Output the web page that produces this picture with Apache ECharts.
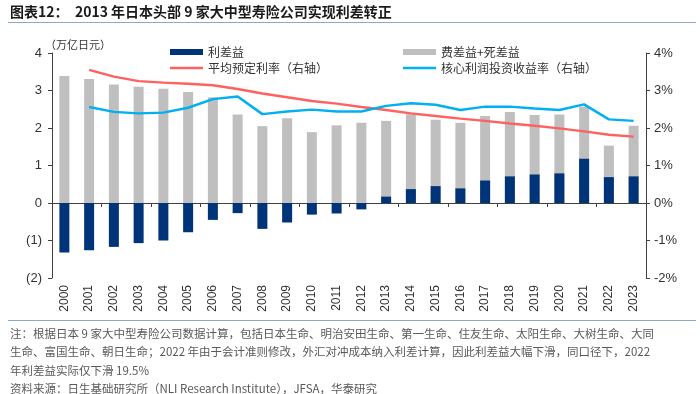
<!DOCTYPE html>
<html><head><meta charset="utf-8">
<script src="https://cdn.jsdelivr.net/npm/echarts@6/dist/echarts.min.js"></script>
<style>html,body{margin:0;padding:0;background:#fff;}#c{width:700px;height:394px;}</style>
</head><body><div id="c"></div>
<script>
var years = ['2000','2001','2002','2003','2004','2005','2006','2007','2008','2009','2010','2011','2012','2013','2014','2015','2016','2017','2018','2019','2020','2021','2022','2023'];
var interestMargin = [-1.32,-1.26,-1.17,-1.07,-1.00,-0.78,-0.45,-0.27,-0.69,-0.52,-0.31,-0.28,-0.17,0.17,0.37,0.45,0.39,0.60,0.71,0.76,0.79,1.18,0.69,0.71];
var expenseMortality = [3.39,3.31,3.16,3.10,3.05,2.96,2.82,2.36,2.05,2.26,1.89,2.07,2.14,2.19,2.37,2.22,2.14,2.32,2.43,2.35,2.36,2.57,1.53,2.06];
var assumedRate = [null,3.55,3.37,3.25,3.21,3.18,3.14,3.04,2.92,2.82,2.72,2.65,2.56,2.48,2.39,2.32,2.25,2.19,2.12,2.06,1.99,1.91,1.82,1.77];
var coreYield = [null,2.56,2.43,2.39,2.41,2.54,2.77,2.84,2.37,2.44,2.49,2.44,2.44,2.59,2.66,2.62,2.48,2.57,2.57,2.52,2.48,2.63,2.23,2.19];
var leftTicks = ['(2)','(1)','0','1','2','3','4'];
var rightTicks = ['-2%','-1%','0%','1%','2%','3%','4%'];

var cjk = '"Noto Sans CJK SC", "Noto Sans", sans-serif';
var latin = '"Liberation Sans", Arial, sans-serif';
var axisColor = '#404040';
var lineIcon = 'path://M0,0L33,0L33,2.5L0,2.5Z';
var chart = echarts.init(document.getElementById('c'), null, {renderer:'canvas'});
chart.setOption({
  animation: false,
  backgroundColor: '#fff',
  grid: {left: 52, right: 54, top: 53, bottom: 116, containLabel: false},
  legend: [
    {left: 165, top: 41, orient: 'vertical', itemGap: 4, itemWidth: 33, itemHeight: 6,
     textStyle: {fontFamily: cjk, fontSize: 12, color: '#333'},
     data: [{name: '利差益', icon: 'rect'}, {name: '平均预定利率（右轴）', icon: lineIcon}]},
    {left: 398, top: 41, orient: 'vertical', itemGap: 4, itemWidth: 33, itemHeight: 6,
     textStyle: {fontFamily: cjk, fontSize: 12, color: '#333'},
     data: [{name: '费差益+死差益', icon: 'rect'}, {name: '核心利润投资收益率（右轴）', icon: lineIcon}]}
  ],
  xAxis: [
    {type: 'category', data: years, axisLine: {onZero: true, lineStyle: {color: axisColor}},
     axisTick: {show: true, inside: false, length: 4, lineStyle: {color: axisColor}},
     axisLabel: {show: false}},
    {type: 'category', data: years, position: 'bottom',
     axisLine: {show: false, onZero: false}, axisTick: {show: false},
     axisLabel: {rotate: 90, fontFamily: latin, fontSize: 12, color: '#333', margin: 7}}
  ],
  yAxis: [
    {type: 'value', min: -2, max: 4, interval: 1, position: 'left',
     axisLine: {show: true, lineStyle: {color: axisColor}},
     axisTick: {show: true, length: 4, lineStyle: {color: axisColor}},
     splitLine: {show: false},
     axisLabel: {fontFamily: latin, fontSize: 13, color: '#333', margin: 10,
       formatter: function(v){ return leftTicks[Math.round(v) + 2]; }}},
    {type: 'value', min: -2, max: 4, interval: 1, position: 'right',
     axisLine: {show: true, lineStyle: {color: axisColor}},
     axisTick: {show: true, length: 4, lineStyle: {color: axisColor}},
     splitLine: {show: false},
     axisLabel: {fontFamily: latin, fontSize: 13, color: '#333', margin: 8,
       formatter: function(v){ return rightTicks[Math.round(v) + 2]; }}}
  ],
  series: [
    {name: '费差益+死差益', type: 'bar', xAxisIndex: 0, yAxisIndex: 0, data: expenseMortality,
     barWidth: 10, itemStyle: {color: '#BFBFBF'}, z: 2},
    {name: '利差益', type: 'bar', xAxisIndex: 0, yAxisIndex: 0, data: interestMargin,
     barWidth: 10, barGap: '-100%', itemStyle: {color: '#003478'}, z: 3},
    {name: '平均预定利率（右轴）', type: 'line', xAxisIndex: 0, yAxisIndex: 1, data: assumedRate,
     symbol: 'none', lineStyle: {color: '#FF6161', width: 2.5}, itemStyle: {color: '#FF6161'}, z: 4},
    {name: '核心利润投资收益率（右轴）', type: 'line', xAxisIndex: 0, yAxisIndex: 1, data: coreYield,
     symbol: 'none', lineStyle: {color: '#00B0F0', width: 2.5}, itemStyle: {color: '#00B0F0'}, z: 5}
  ],
  graphic: [
    {type: 'text', left: 10, top: 5, style: {text: '图表12：  2013 年日本头部 9 家大中型寿险公司实现利差转正',
      font: 'bold 14px ' + cjk, fill: '#1a1a1a'}},
    {type: 'rect', shape: {x: 8, y: 22, width: 688, height: 1}, style: {fill: '#8FA8C8'}},
    {type: 'text', left: 45, top: 39, style: {text: '（万亿日元）', font: '11px ' + cjk, fill: '#333'}},
    {type: 'rect', shape: {x: 8, y: 320, width: 688, height: 1}, style: {fill: '#8FA8C8'}},
    {type: 'text', left: 10, top: 324, style: {
      text: '注：根据日本 9 家大中型寿险公司数据计算，包括日本生命、明治安田生命、第一生命、住友生命、太阳生命、大树生命、大同\n生命、富国生命、朝日生命；2022 年由于会计准则修改，外汇对冲成本纳入利差计算，因此利差益大幅下滑，同口径下，2022\n年利差益实际仅下滑 19.5%\n资料来源：日生基础研究所（NLI Research Institute），JFSA，华泰研究',
      font: '11.5px ' + cjk, fill: '#595959', lineHeight: 18.5}}
  ]
});
</script></body></html>
